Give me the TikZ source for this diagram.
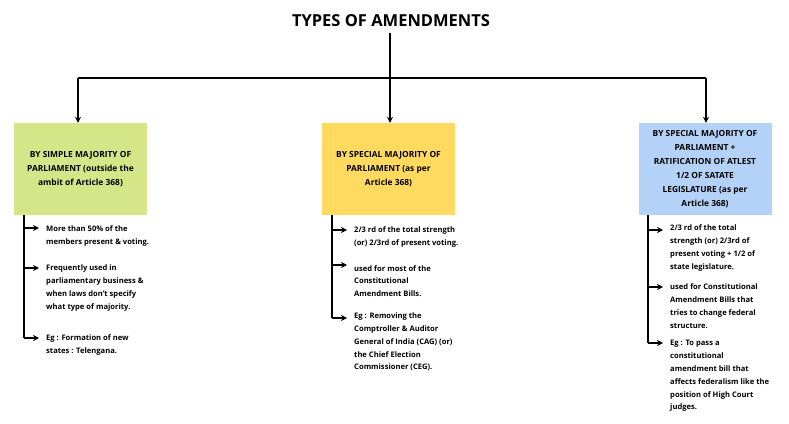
\documentclass[tikz,border=0pt]{standalone}
\usepackage{fontspec}
\setmainfont{Open Sans}
\usetikzlibrary{arrows.meta,positioning}
\definecolor{boxgreen}{RGB}{212,230,135}
\definecolor{boxyellow}{RGB}{255,218,95}
\definecolor{boxblue}{RGB}{180,210,247}
\tikzset{
	kind/.style={minimum width=133pt, minimum height=92pt, align=center, font=\bfseries\fontsize{8.4}{14}\selectfont, inner sep=2pt},
	point/.style={anchor=west, align=left, font=\bfseries\fontsize{7.6}{12.8}\selectfont, inner sep=0pt},
	link/.style={line width=1.6pt},
	arr/.style={line width=1.6pt, -{Stealth[length=6pt,width=6pt]}}
}
\begin{document}
\begin{tikzpicture}[x=1pt, y=-1pt]
	\useasboundingbox (0, 0) rectangle (789, 423);
	\node[font=\bfseries\fontsize{16.5}{19}\selectfont] (title) at (391, 21) {TYPES OF AMENDMENTS};
	\node[kind, fill=boxgreen] (simple) at (80.5, 169) {BY SIMPLE MAJORITY OF\\PARLIAMENT (outside the\\ambit of Article 368)};
	\node[kind, fill=boxyellow] (special) at (388.5, 169) {BY SPECIAL MAJORITY OF\\PARLIAMENT (as per\\Article 368)};
	\node[kind, fill=boxblue] (ratify) at (705, 169) {BY SPECIAL MAJORITY OF\\PARLIAMENT +\\RATIFICATION OF ATLEST\\1/2 OF SATATE\\LEGISLATURE (as per\\Article 368)};
	% tree
	\coordinate (hub) at (390, 78);
	\coordinate (hl) at (78, 78);
	\coordinate (hr) at (706, 78);
	\draw[link] (title.south -| hub) ++(0, 2) -- (hub);
	\draw[link] (hl) -- (hr);
	\draw[arr] (hl) -- (hl |- simple.north);
	\draw[arr] (hub) -- (hub |- special.north);
	\draw[arr] (hr) -- (hr |- ratify.north);
	% points
	\node[point] (s1) at (46, 236) {More than 50\% of the\\members present \& voting.};
	\node[point] (s2) at (46, 288) {Frequently used in\\parliamentary business \&\\when laws don't specify\\what type of majority.};
	\node[point] (s3) at (46, 345) {Eg : Formation of new\\states : Telengana.};
	\node[point] (m1) at (354, 237) {2/3 rd of the total strength\\(or) 2/3rd of present voting.};
	\node[point] (m2) at (354, 281) {used for most of the\\Constitutional\\Amendment Bills.};
	\node[point] (m3) at (354, 342) {Eg : Removing the\\Comptroller \& Auditor\\General of India (CAG) (or)\\the Chief Election\\Commissioner (CEG).};
	\node[point] (r1) at (670, 248) {2/3 rd of the total\\strength (or) 2/3rd of\\present voting + 1/2 of\\state legislature.};
	\node[point] (r2) at (670, 306) {used for Constitutional\\Amendment Bills that\\tries to change federal\\structure.};
	\node[point] (r3) at (670, 376) {Eg : To pass a\\constitutional\\amendment bill that\\affects federalism like the\\position of High Court\\judges.};
	\foreach \b/\x/\p/\q/\r/\ya/\yb/\yc in {simple/24/s1/s2/s3/228/268/338, special/332/m1/m2/m3/230/265/318, ratify/648/r1/r2/r3/230/287/343}{
		\draw[link] (\x, 215) -- (\x, \yc);
		\draw[arr] (\x, \ya) -- (\x+15, \ya);
		\draw[arr] (\x, \yb) -- (\x+15, \yb);
		\draw[arr] (\x, \yc) -- (\x+15, \yc);
	}
\end{tikzpicture}
\end{document}
